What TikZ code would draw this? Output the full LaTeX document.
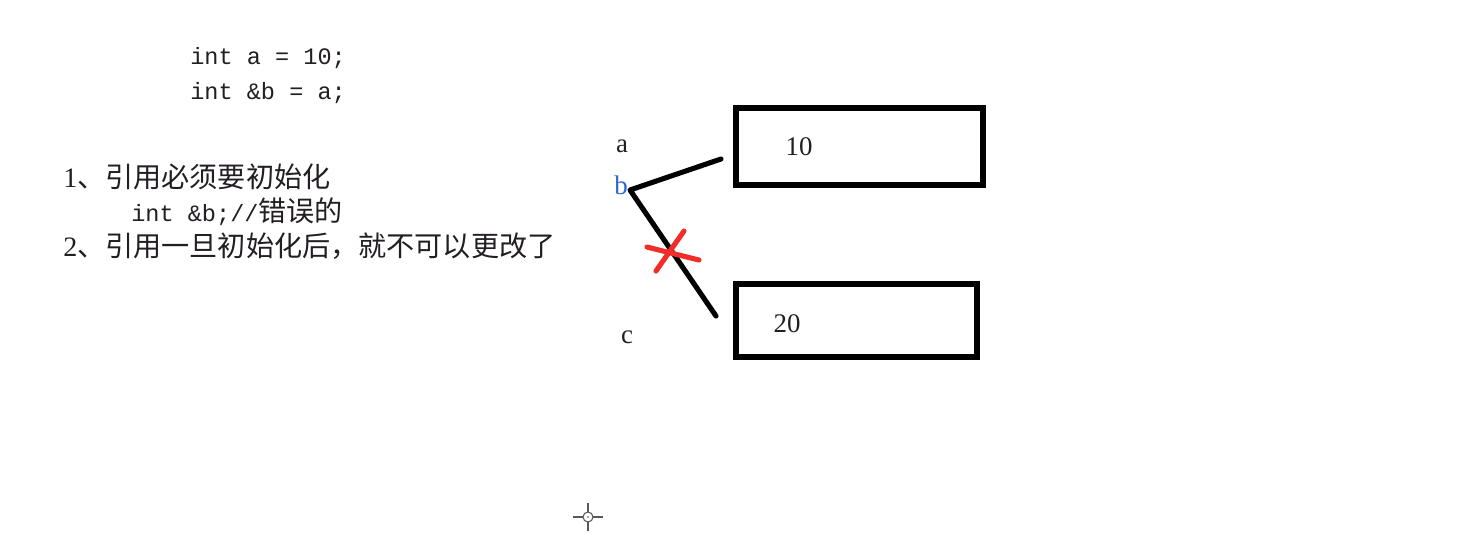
\documentclass[tikz,border=0pt]{standalone}
\usepackage{fontspec}
\setmainfont{Liberation Serif}
\setmonofont{Liberation Mono}
\newfontfamily\cjk{Noto Sans CJK SC}
\usetikzlibrary{positioning}
\definecolor{inkdark}{RGB}{35,30,35}
\definecolor{refblue}{RGB}{45,105,205}
\definecolor{crossred}{RGB}{240,45,40}
\tikzset{
    code/.style = {
        anchor=west,
        inner sep=0pt,
        text=inkdark,
        font=\fontsize{13.4}{15}\ttfamily
    },
    note/.style = {
        anchor=west,
        inner sep=0pt,
        text=inkdark,
        font=\fontsize{16}{18}\selectfont
    },
    varname/.style = {
        inner sep=0pt,
        text=inkdark,
        font=\fontsize{15.3}{18}\selectfont
    },
    cell/.style = {
        draw,
        shape=rectangle,
        line width=3.4pt,
        inner sep=0pt
    },
    link/.style = {
        draw,
        line width=2.9pt,
        line cap=round,
        line join=round
    },
    strike/.style = {
        draw,
        color=crossred,
        line width=2.9pt,
        line cap=round
    },
}
\begin{document}
\begin{tikzpicture}[x=0.2mm, y=-0.2mm]
                \useasboundingbox[fill=white] (0,0) rectangle (1472,553);

                \node[code] (decla) at (190,58) {int a = 10;};
                \node[code] (declb) at (190,93) {int \&b = a;};
                \node[note] (rule1) at (63,177) {1\cjk{、引用必须要初始化}};
                \node[note] (wrong) at (131,212) {\fontsize{13.4}{15}\ttfamily int \&b;//\fontsize{16}{18}\cjk{错误的}};
                \node[note] (rule2) at (63,246) {2\cjk{、引用一旦初始化后，就不可以更改了}};

                \node[varname] (vara) at (622,146) {a};
                \node[varname, text=refblue] (varb) at (621,185) {b};
                \node[varname] (varc) at (627,337) {c};

                \node[cell, minimum width=247*0.2mm, minimum height=77*0.2mm] (mema) at (859.5,146.5) {};
                \node[cell, minimum width=241*0.2mm, minimum height=73*0.2mm] (memc) at (856.5,320.5) {};
                \node[varname] (vala) at (799,147) {10};
                \node[varname] (valc) at (787,324) {20};

                \coordinate (bend) at (630,190);
                \coordinate (toa) at (721,159);
                \coordinate (toc) at (716,316);
                \path[link] (toa) -- (bend) -- (toc);

                % crossed-out link
                \coordinate (xa) at (647,247);
                \coordinate (xb) at (699,260);
                \coordinate (xc) at (684,231);
                \coordinate (xd) at (656,271);
                \path[strike] (xa) -- (xb);
                \path[strike] (xc) -- (xd);

                % mouse pointer
                \coordinate (cursor) at (588,517);
                \path[draw, gray!70!black, line width=0.6pt] ([yshift=-14*0.2mm]cursor) -- ([yshift=-5*0.2mm]cursor);
                \path[draw, gray!70!black, line width=0.6pt] ([yshift=14*0.2mm]cursor) -- ([yshift=5*0.2mm]cursor);
                \path[draw, gray!70!black, line width=0.6pt] ([xshift=-15*0.2mm]cursor) -- ([xshift=-5*0.2mm]cursor);
                \path[draw, gray!70!black, line width=0.6pt] ([xshift=15*0.2mm]cursor) -- ([xshift=5*0.2mm]cursor);
                \path[draw, gray!70!black, fill=white, line width=0.6pt] (cursor) circle[radius=5];
                \path[fill, gray!70!black] (cursor) circle[radius=0.8];
            \end{tikzpicture}
\end{document}
